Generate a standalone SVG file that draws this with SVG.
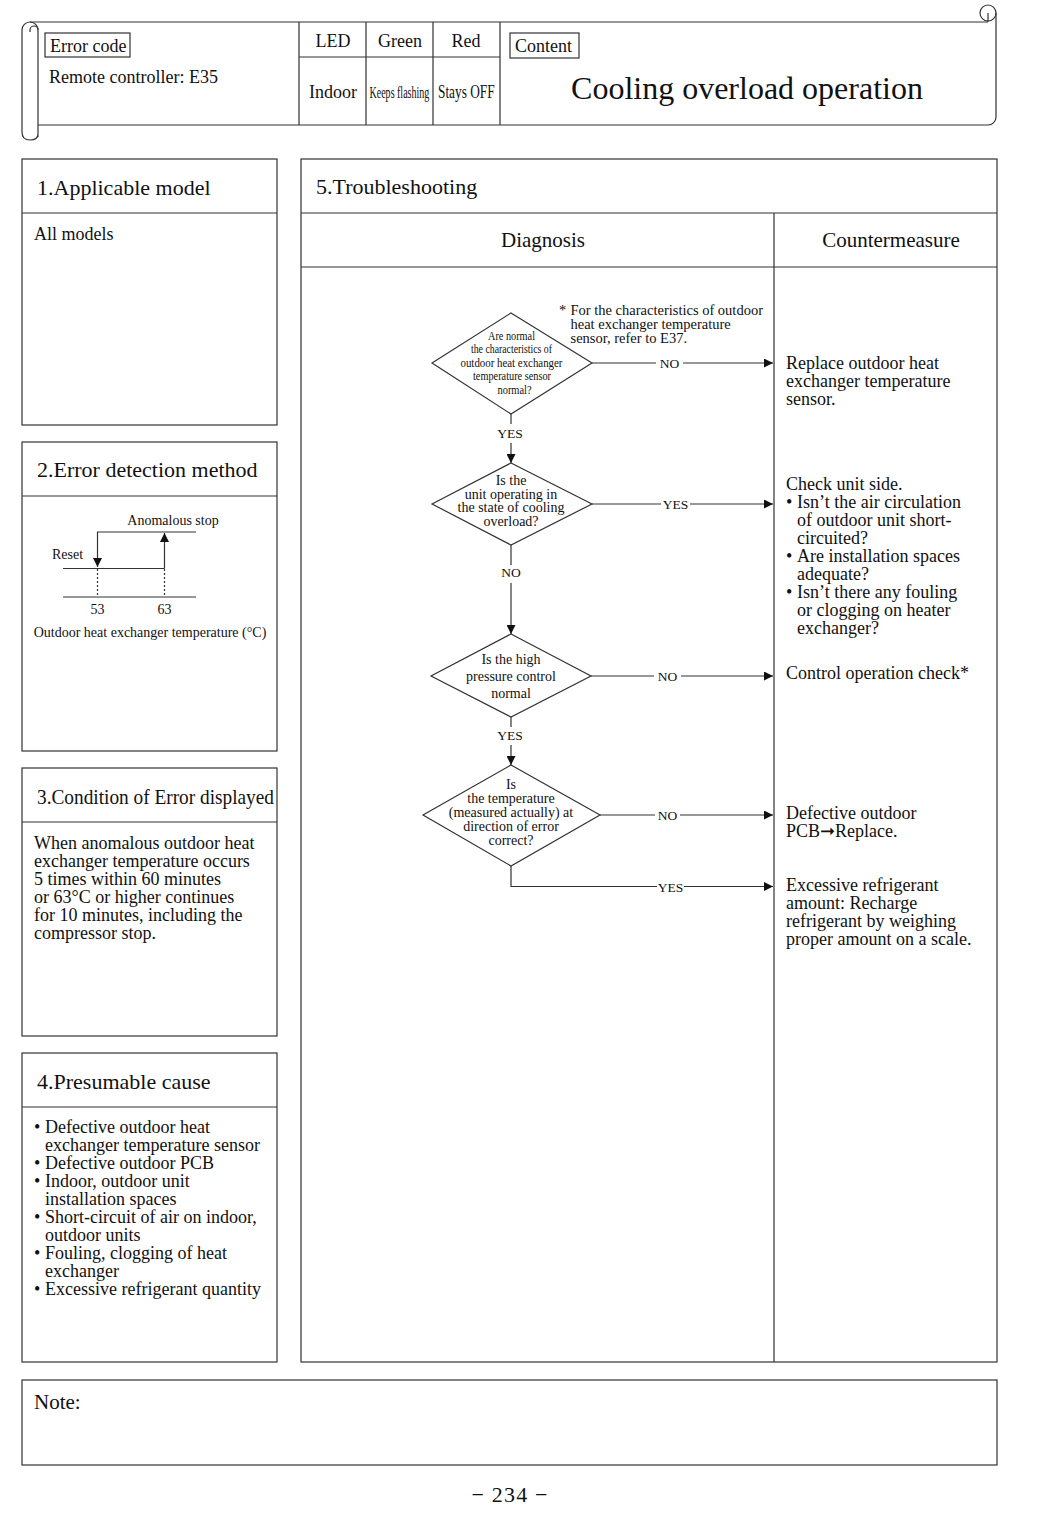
<svg xmlns="http://www.w3.org/2000/svg" width="1037" height="1521" viewBox="0 0 1037 1521">
<defs>
<style>
text{font-family:"Liberation Serif","Times New Roman",serif;fill:#111}
.ln{stroke:#333;stroke-width:1.2;fill:none}
.bx{stroke:#333;stroke-width:1.2;fill:#fff}
.t18{font-size:18px}
.t22{font-size:22px}
.t14{font-size:14px}
.t13{font-size:13px}
.lbl{font-size:13.5px;text-anchor:middle}
.mid{text-anchor:middle}
.dm{stroke:#333;stroke-width:1.2;fill:#fff}
</style>
<marker id="ah" viewBox="0 0 10 10" refX="10" refY="5" markerWidth="10" markerHeight="9" markerUnits="userSpaceOnUse" orient="auto">
<path d="M0,0 L10,5 L0,10 z" fill="#111"/>
</marker>
</defs>
<rect width="1037" height="1521" fill="#fff"/>

<!-- Header scroll -->
<g id="header">
<path class="ln" d="M30,22 L988,22 M38,125 L988,125 A8,8 0 0 0 996,117 L996,13"/>
<circle class="ln" cx="988" cy="13" r="8"/>
<path class="ln" d="M988,13 L988,22"/>
<path class="ln" d="M22,132 L22,30 A8,8 0 0 1 38,30 L38,137 M22,132 Q22,140 30,140 Q38,140 38,134"/>
<path class="ln" d="M38,30 A4,4 0 0 0 30,30 L30,32"/>
<path class="ln" d="M299,22 L299,125 M366,22 L366,125 M433,22 L433,125 M500,22 L500,125 M299,57 L500,57"/>
<rect class="bx" x="45" y="33" width="85" height="24"/>
<text class="t18" x="50" y="51.5">Error code</text>
<text class="t18" x="49" y="83">Remote controller: E35</text>
<text class="t18 mid" x="333" y="47">LED</text>
<text class="t18 mid" x="400" y="47">Green</text>
<text class="t18 mid" x="466" y="47">Red</text>
<text class="t18 mid" x="333" y="97.5">Indoor</text>
<text transform="translate(369.5,97.5) scale(0.59,1)" style="font-size:17px">Keeps flashing</text>
<text transform="translate(438,97.5) scale(0.74,1)" style="font-size:18px">Stays OFF</text>
<rect class="bx" x="510" y="33" width="69" height="25"/>
<text class="t18" x="515" y="51.5">Content</text>
<text class="mid" x="747" y="99" style="font-size:32px">Cooling overload operation</text>
</g>

<!-- Section 1 -->
<g id="sec1">
<rect class="bx" x="22" y="159" width="255" height="266"/>
<path class="ln" d="M22,213 L277,213"/>
<text class="t22" x="37" y="195">1.Applicable model</text>
<text class="t18" x="34" y="240">All models</text>
</g>

<!-- Section 2 -->
<g id="sec2">
<rect class="bx" x="22" y="442" width="255" height="309"/>
<path class="ln" d="M22,496 L277,496"/>
<text class="t22" x="37" y="477">2.Error detection method</text>
<path class="ln" d="M97,532 L196,532 M63,568.5 L164.5,568.5 M63,597 L196,597"/>
<path class="ln" d="M97.5,532 L97.5,567" marker-end="url(#ah)"/>
<path class="ln" d="M164.5,568.5 L164.5,533" marker-end="url(#ah)"/>
<path class="ln" d="M97.5,569 L97.5,597 M164.5,569 L164.5,597" stroke-dasharray="2,2"/>
<text class="t14 mid" x="173" y="525">Anomalous stop</text>
<text class="t14" x="52" y="559">Reset</text>
<text class="t14 mid" x="97.5" y="614">53</text>
<text class="t14 mid" x="164.5" y="614">63</text>
<text class="t14 mid" x="150" y="637">Outdoor heat exchanger temperature (°C)</text>
</g>

<!-- Section 3 -->
<g id="sec3">
<rect class="bx" x="22" y="768" width="255" height="268"/>
<path class="ln" d="M22,822 L277,822"/>
<text class="t22" x="37" y="804" textLength="237" lengthAdjust="spacingAndGlyphs">3.Condition of Error displayed</text>
<text class="t18" x="34" y="849">When anomalous outdoor heat</text>
<text class="t18" x="34" y="867">exchanger temperature occurs</text>
<text class="t18" x="34" y="885">5 times within 60 minutes</text>
<text class="t18" x="34" y="903">or 63°C or higher continues</text>
<text class="t18" x="34" y="921">for 10 minutes, including the</text>
<text class="t18" x="34" y="939">compressor stop.</text>
</g>

<!-- Section 4 -->
<g id="sec4">
<rect class="bx" x="22" y="1053" width="255" height="309"/>
<path class="ln" d="M22,1107 L277,1107"/>
<text class="t22" x="37" y="1089">4.Presumable cause</text>
<text class="t18" x="34" y="1133">•</text><text class="t18" x="45" y="1133">Defective outdoor heat</text>
<text class="t18" x="45" y="1151">exchanger temperature sensor</text>
<text class="t18" x="34" y="1169">•</text><text class="t18" x="45" y="1169">Defective outdoor PCB</text>
<text class="t18" x="34" y="1187">•</text><text class="t18" x="45" y="1187">Indoor, outdoor unit</text>
<text class="t18" x="45" y="1205">installation spaces</text>
<text class="t18" x="34" y="1223">•</text><text class="t18" x="45" y="1223">Short-circuit of air on indoor,</text>
<text class="t18" x="45" y="1241">outdoor units</text>
<text class="t18" x="34" y="1259">•</text><text class="t18" x="45" y="1259">Fouling, clogging of heat</text>
<text class="t18" x="45" y="1277">exchanger</text>
<text class="t18" x="34" y="1295">•</text><text class="t18" x="45" y="1295">Excessive refrigerant quantity</text>
</g>

<!-- Section 5 frame -->
<g id="sec5">
<rect class="bx" x="301" y="159" width="696" height="1203"/>
<path class="ln" d="M301,213 L997,213 M301,267 L997,267 M774,213 L774,1362"/>
<text class="t22" x="316" y="194">5.Troubleshooting</text>
<text class="mid" x="543" y="247" style="font-size:21px">Diagnosis</text>
<text class="mid" x="891" y="247" style="font-size:21px">Countermeasure</text>
</g>

<!-- Connectors -->
<g id="connectors">
<path class="ln" d="M592,363 L656,363"/>
<path class="ln" d="M683,363 L773,363" marker-end="url(#ah)"/>
<text class="lbl" x="669.5" y="368">NO</text>
<path class="ln" d="M511,414 L511,424"/>
<text class="lbl" x="510" y="438">YES</text>
<path class="ln" d="M511,443 L511,463" marker-end="url(#ah)"/>

<path class="ln" d="M592,504 L661,504"/>
<path class="ln" d="M690,504 L773,504" marker-end="url(#ah)"/>
<text class="lbl" x="675.5" y="509">YES</text>
<path class="ln" d="M511,545 L511,565"/>
<text class="lbl" x="511" y="577">NO</text>
<path class="ln" d="M511,583 L511,634" marker-end="url(#ah)"/>

<path class="ln" d="M591,676 L654,676"/>
<path class="ln" d="M681,676 L773,676" marker-end="url(#ah)"/>
<text class="lbl" x="667.5" y="681">NO</text>
<path class="ln" d="M511,717 L511,727"/>
<text class="lbl" x="510" y="740">YES</text>
<path class="ln" d="M511,745 L511,765" marker-end="url(#ah)"/>

<path class="ln" d="M600,815 L655,815"/>
<path class="ln" d="M680,815 L773,815" marker-end="url(#ah)"/>
<text class="lbl" x="667.5" y="820">NO</text>
<path class="ln" d="M511,866 L511,886.5 L657,886.5"/>
<path class="ln" d="M684,886.5 L773,886.5" marker-end="url(#ah)"/>
<text class="lbl" x="670.5" y="891.5">YES</text>
</g>

<!-- Diamonds -->
<g id="d1">
<polygon class="dm" points="511,313 592,363 511,414 432,363"/>
<text class="t13" x="488" y="339.5" textLength="47" lengthAdjust="spacingAndGlyphs">Are normal</text>
<text class="t13" x="471" y="353" textLength="81" lengthAdjust="spacingAndGlyphs">the characteristics of</text>
<text class="t13" x="460.5" y="366.5" textLength="102" lengthAdjust="spacingAndGlyphs">outdoor heat exchanger</text>
<text class="t13" x="473" y="380" textLength="78" lengthAdjust="spacingAndGlyphs">temperature sensor</text>
<text class="t13" x="497.5" y="393.5" textLength="34" lengthAdjust="spacingAndGlyphs">normal?</text>
</g>
<g id="note1">
<text x="559" y="314.5" style="font-size:14.5px">*</text>
<text x="570.5" y="314.5" style="font-size:14.5px">For the characteristics of outdoor</text>
<text x="570.5" y="328.5" style="font-size:14.5px">heat exchanger temperature</text>
<text x="570.5" y="342.5" style="font-size:14.5px">sensor, refer to E37.</text>
</g>
<g id="d2">
<polygon class="dm" points="511,463 592,504 511,545 432,504"/>
<text class="t14 mid" x="511" y="485">Is the</text>
<text class="t14 mid" x="511" y="498.5">unit operating in</text>
<text class="t14 mid" x="511" y="512">the state of cooling</text>
<text class="t14 mid" x="511" y="525.5">overload?</text>
</g>
<g id="d3">
<polygon class="dm" points="511,634 591,676 511,717 431,676"/>
<text class="t14 mid" x="511" y="663.5">Is the high</text>
<text class="t14 mid" x="511" y="680.5">pressure control</text>
<text class="t14 mid" x="511" y="697.5">normal</text>
</g>
<g id="d4">
<polygon class="dm" points="511,765 600,815 511,866 423,815"/>
<text class="t14 mid" x="511" y="789">Is</text>
<text class="t14 mid" x="511" y="803">the temperature</text>
<text class="t14 mid" x="511" y="817">(measured actually) at</text>
<text class="t14 mid" x="511" y="831">direction of error</text>
<text class="t14 mid" x="511" y="845">correct?</text>
</g>

<!-- Countermeasures -->
<g id="cm1">
<text class="t18" x="786" y="369">Replace outdoor heat</text>
<text class="t18" x="786" y="387">exchanger temperature</text>
<text class="t18" x="786" y="405">sensor.</text>
</g>
<g id="cm2">
<text class="t18" x="786" y="490">Check unit side.</text>
<text class="t18" x="786" y="508">•</text><text class="t18" x="797" y="508">Isn’t the air circulation</text>
<text class="t18" x="797" y="526">of outdoor unit short-</text>
<text class="t18" x="797" y="544">circuited?</text>
<text class="t18" x="786" y="562">•</text><text class="t18" x="797" y="562">Are installation spaces</text>
<text class="t18" x="797" y="580">adequate?</text>
<text class="t18" x="786" y="598">•</text><text class="t18" x="797" y="598">Isn’t there any fouling</text>
<text class="t18" x="797" y="616">or clogging on heater</text>
<text class="t18" x="797" y="634">exchanger?</text>
</g>
<g id="cm3">
<text class="t18" x="786" y="679">Control operation check*</text>
</g>
<g id="cm4">
<text class="t18" x="786" y="819">Defective outdoor</text>
<text class="t18" x="786" y="837">PCB➞Replace.</text>
</g>
<g id="cm5">
<text class="t18" x="786" y="891">Excessive refrigerant</text>
<text class="t18" x="786" y="909">amount: Recharge</text>
<text class="t18" x="786" y="927">refrigerant by weighing</text>
<text class="t18" x="786" y="945">proper amount on a scale.</text>
</g>

<!-- Note -->
<g id="note">
<rect class="bx" x="22" y="1380" width="975" height="85"/>
<text x="34" y="1409" style="font-size:21px">Note:</text>
</g>
<g id="page">
<text class="mid" x="509.5" y="1502" style="font-size:22px" textLength="76" lengthAdjust="spacing">− 234 −</text>
</g>
</svg>
